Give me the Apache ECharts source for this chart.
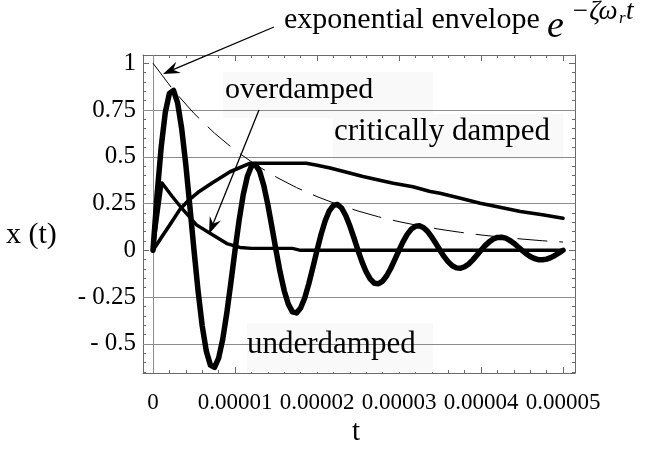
<!DOCTYPE html>
<html><head><meta charset="utf-8">
<script src="https://cdn.jsdelivr.net/npm/echarts@6/dist/echarts.min.js"></script>
<style>html,body{margin:0;padding:0;background:#fff}#c{width:647px;height:458px}</style>
</head><body><div id="c"></div>
<script>
// ---------------- data (time in microseconds) ----------------
const underStepMicro = 0.5;
const underX = [0,0.299,0.552,0.737,0.839,0.855,0.788,0.650,0.458,0.233,
  0,-0.219,-0.404,-0.539,-0.614,-0.626,-0.577,-0.476,-0.335,-0.171,
  0,0.160,0.296,0.394,0.449,0.458,0.422,0.348,0.245,0.125,
  0,-0.117,-0.216,-0.288,-0.329,-0.335,-0.309,-0.255,-0.179,-0.091,
  0,0.086,0.158,0.211,0.240,0.245,0.226,0.186,0.131,0.067,
  0,-0.063,-0.116,-0.154,-0.176,-0.179,-0.165,-0.136,-0.096,-0.049,
  0,0.046,0.085,0.113,0.129,0.131,0.121,0.100,0.070,0.036,
  0,-0.034,-0.062,-0.083,-0.094,-0.096,-0.088,-0.073,-0.051,-0.026,
  0,0.025,0.045,0.060,0.069,0.070,0.065,0.053,0.038,0.019,
  0,-0.018,-0.033,-0.044,-0.050,-0.051,-0.047,-0.039,-0.028,-0.014,
  0];
const overT = [0, 1.1, 2.3, 3.5, 5.3, 7.1, 9.0, 10.6, 12, 17, 18, 50];
const overX = [0, 0.36, 0.29, 0.225, 0.136, 0.087, 0.036, 0.015, 0.01, 0.01, 0, 0];
const critT = [0, 1, 2, 3.3, 4.4, 5.5, 7.2, 9.4, 11.8, 14, 16, 18.7, 20, 21.6, 23.5, 25.6, 27.5, 29.3, 31.7, 33.8, 35, 37.5, 39.9, 42.3, 44.8, 47.5, 50];
const critX = [0, 0.067, 0.133, 0.22, 0.27, 0.31, 0.36, 0.42, 0.465, 0.465, 0.465, 0.465, 0.455, 0.44, 0.418, 0.394, 0.376, 0.358, 0.34, 0.314, 0.305, 0.278, 0.252, 0.23, 0.207, 0.19, 0.171];
const envT = [0, 2.5, 5, 7.5, 10, 12.5, 15, 17.5, 20, 22.5, 25, 27.5, 30, 32.5, 35, 37.5, 40, 42.5, 45, 47.5, 50];
const envX = [1, 0.855, 0.732, 0.626, 0.535, 0.458, 0.392, 0.335, 0.287, 0.245, 0.21, 0.179, 0.153, 0.131, 0.112, 0.096, 0.082, 0.07, 0.06, 0.051, 0.044];

const xTickValues = [0, 0.00001, 0.00002, 0.00003, 0.00004, 0.00005];
const xTickLabels = ['0', '0.00001', '0.00002', '0.00003', '0.00004', '0.00005'];
const yTickValues = [-0.5, -0.25, 0, 0.25, 0.5, 0.75, 1];
const yTickLabels = ['- 0.5', '- 0.25', '0', '0.25', '0.5', '0.75', '1'];
const xGridValues = [0.00001, 0.00002, 0.00003, 0.00004];
const yGridValues = [-0.5, -0.25, 0.25, 0.5, 0.75];

// ---------------- helpers ----------------
const US = 1e-6;
const pairs = (ts, xs) => ts.map((t, i) => [t * US, xs[i]]);
const underData = underX.map((v, i) => [i * underStepMicro * US, v]);

const XMIN = -1.22e-6, XMAX = 5.146e-5, YMIN = -0.656, YMAX = 1.044;
const FRAME = '#6a6a6a';
const GRID = '#8c8c8c';
const FONT = '"Liberation Serif", "Times New Roman", serif';

const xMinor = [], yMinor = [];
for (let k = -1; k <= 26; k++) { const v = k * 2e-6; if (k % 5 !== 0 && v > XMIN && v < XMAX) xMinor.push(v); }
for (let k = -14; k <= 21; k++) { const v = k * 0.05; if (k % 5 !== 0 && v > YMIN && v < YMAX) yMinor.push(v); }

function nearestLabel(vals, labels, v) {
  let bi = 0; for (let i = 1; i < vals.length; i++) if (Math.abs(vals[i] - v) < Math.abs(vals[bi] - v)) bi = i;
  return labels[bi];
}
function mkX(position, ticks, len, withLabel, withLine) {
  return {
    type: 'value', position, min: XMIN, max: XMAX, gridIndex: 0,
    axisLine: { show: withLine, onZero: false, lineStyle: { color: FRAME, width: 1 } },
    axisTick: { show: true, inside: true, length: len, customValues: ticks, lineStyle: { color: FRAME, width: 1 } },
    axisLabel: withLabel ? { show: true, customValues: xTickValues, formatter: v => nearestLabel(xTickValues, xTickLabels, v),
      fontFamily: FONT, fontSize: 23, color: '#000', margin: 18 } : { show: false },
    splitLine: { show: false }, minorTick: { show: false }
  };
}
function mkY(position, ticks, len, withLabel, withLine) {
  return {
    type: 'value', position, min: YMIN, max: YMAX, gridIndex: 0,
    axisLine: { show: withLine, onZero: false, lineStyle: { color: FRAME, width: 1 } },
    axisTick: { show: true, inside: true, length: len, customValues: ticks, lineStyle: { color: FRAME, width: 1 } },
    axisLabel: withLabel ? { show: true, customValues: yTickValues, formatter: v => nearestLabel(yTickValues, yTickLabels, v),
      fontFamily: FONT, fontSize: 25, color: '#000', margin: 7 } : { show: false },
    splitLine: { show: false }, minorTick: { show: false }
  };
}
function arrow(x1, y1, x2, y2) {
  const dx = x2 - x1, dy = y2 - y1, L = Math.hypot(dx, dy), ux = dx / L, uy = dy / L, px = -uy, py = ux;
  const len = 17, half = 6, notch = 6;
  const bx = x2 - ux * len, by = y2 - uy * len, nx = x2 - ux * (len - notch), ny = y2 - uy * (len - notch);
  return [
    { type: 'line', z: 20, shape: { x1, y1, x2: nx, y2: ny }, style: { stroke: '#000', lineWidth: 1.3 } },
    { type: 'polygon', z: 20, shape: { points: [[x2, y2], [bx + px * half, by + py * half], [nx, ny], [bx - px * half, by - py * half]] }, style: { fill: '#000' } }
  ];
}
function txt(text, x, y, size, italic) {
  return { type: 'text', z: 20, style: { text, x, y, fill: '#000',
    font: (italic ? 'italic ' : '') + size + 'px ' + FONT, textAlign: 'left', textVerticalAlign: 'middle' } };
}
function box(x, y, w, h) {
  return { type: 'rect', z: 2, shape: { x, y, width: w, height: h }, style: { fill: '#f9f9f9' } };
}

const line = (name, data, width, extra) => Object.assign({
  name, type: 'line', data, xAxisIndex: 0, yAxisIndex: 0, symbol: 'none', smooth: false, z: 5,
  lineStyle: { color: '#000', width, join: 'round', cap: 'round' }, animation: false, silent: true
}, extra || {});

const chart = echarts.init(document.getElementById('c'), null, { renderer: 'canvas' });
chart.setOption({
  animation: false,
  backgroundColor: '#fff',
  grid: { left: 143, top: 55, right: 72, bottom: 85, containLabel: false },
  xAxis: [ mkX('bottom', xTickValues, 6, true, true), mkX('bottom', xMinor, 3, false, false),
           mkX('top', xTickValues, 6, false, true), mkX('top', xMinor, 3, false, false) ],
  yAxis: [ mkY('left', yTickValues, 6, true, true), mkY('left', yMinor, 3, false, false),
           mkY('right', yTickValues, 6, false, true), mkY('right', yMinor, 3, false, false) ],
  series: [
    { type: 'line', data: [], xAxisIndex: 0, yAxisIndex: 0, z: 1, silent: true,
      markLine: { silent: true, symbol: ['none', 'none'], label: { show: false }, animation: false,
        lineStyle: { color: GRID, width: 1, type: 'solid' },
        data: xGridValues.map(v => ({ xAxis: v })).concat(yGridValues.map(v => ({ yAxis: v }))) } },
    line('exponential envelope', pairs(envT, envX), 1, { lineStyle: { color: '#000', width: 1, type: [30, 12] } }),
    line('critically damped', pairs(critT, critX), 3.6),
    line('overdamped', pairs(overT, overX), 3.4),
    line('underdamped', underData, 5.5)
  ],
  graphic: [
    box(223, 72, 210, 46),
    box(333, 114, 230, 46),
    box(247, 323, 186, 49),
    txt('exponential envelope', 284, 20, 30),
    txt('e', 547, 27, 38, true),
    txt('\u2212\u03B6\u03C9', 571, 12, 27, true),
    txt('r', 619, 19, 17, true),
    txt('t', 626, 12, 27, true),
    txt('overdamped', 225, 90, 30),
    txt('critically damped', 334, 132, 31),
    txt('underdamped', 247, 345, 31),
    txt('x (t)', 6, 235, 30),
    txt('t', 352, 432, 29),
    ...arrow(274, 27, 163, 74),
    ...arrow(259, 110, 209, 234)
  ]
});
</script></body></html>
